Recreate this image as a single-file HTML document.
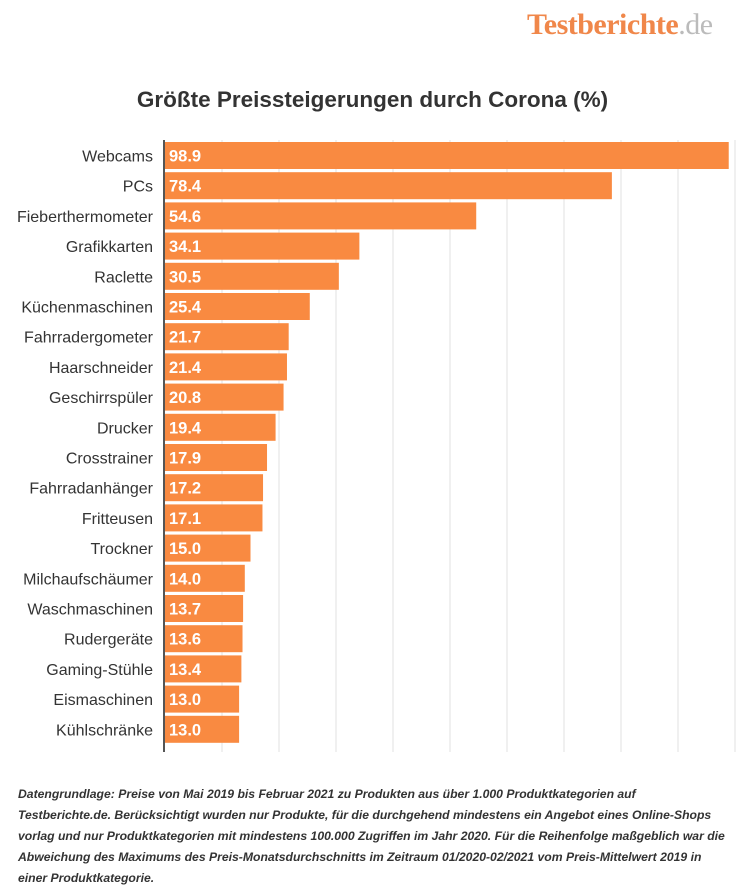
<!DOCTYPE html>
<html><head><meta charset="utf-8"><style>
body{margin:0;background:#fff;width:745px;height:895px;overflow:hidden;font-family:"Liberation Sans",sans-serif;position:relative}
.logo{position:absolute;left:527px;top:8px;font-family:"Liberation Serif",serif;font-size:30px;font-weight:bold;color:#f0874a;letter-spacing:-0.5px}
.logo span{color:#bbb;font-weight:normal}
.title{position:absolute;left:0;width:745px;top:87px;text-align:center;font-size:22.5px;font-weight:bold;color:#333}
.note{position:absolute;left:18px;top:784px;width:727px;font-size:12.2px;font-style:italic;font-weight:bold;color:#333;line-height:21px;white-space:nowrap}
</style></head><body>
<div class="logo">Testberichte<span>.de</span></div>
<div class="title">Größte Preissteigerungen durch Corona (%)</div>
<svg id="chart" width="745" height="895" style="position:absolute;left:0;top:0"></svg>
<div class="note">Datengrundlage: Preise von Mai 2019 bis Februar 2021 zu Produkten aus über 1.000 Produktkategorien auf<br>Testberichte.de. Berücksichtigt wurden nur Produkte, für die durchgehend mindestens ein Angebot eines Online-Shops<br>vorlag und nur Produktkategorien mit mindestens 100.000 Zugriffen im Jahr 2020. Für die Reihenfolge maßgeblich war die<br>Abweichung des Maximums des Preis-Monatsdurchschnitts im Zeitraum 01/2020-02/2021 vom Preis-Mittelwert 2019 in<br>einer Produktkategorie.</div>
<script>
const categories=["Webcams","PCs","Fieberthermometer","Grafikkarten","Raclette","Küchenmaschinen","Fahrradergometer","Haarschneider","Geschirrspüler","Drucker","Crosstrainer","Fahrradanhänger","Fritteusen","Trockner","Milchaufschäumer","Waschmaschinen","Rudergeräte","Gaming-Stühle","Eismaschinen","Kühlschränke"];
const values=[98.9,78.4,54.6,34.1,30.5,25.4,21.7,21.4,20.8,19.4,17.9,17.2,17.1,15.0,14.0,13.7,13.6,13.4,13.0,13.0];
const gridTicks=[10,20,30,40,50,60,70,80,90,100];
const NS="http://www.w3.org/2000/svg";
const svg=document.getElementById('chart');
const x0=165,pxPer=5.7,top0=142,step=30.2,bh=27;
const xs=v=>x0+v*pxPer, ys=i=>top0+i*step;
function mk(t,a){const e=document.createElementNS(NS,t);for(const k in a)e.setAttribute(k,a[k]);svg.appendChild(e);return e;}
gridTicks.forEach(t=>{const l=mk('line',{x1:xs(t),x2:xs(t),y1:140,y2:752,stroke:'#e2e2e2','stroke-width':1});

});
categories.forEach((c,i)=>{
const r=mk('rect',{x:x0,y:ys(i),width:values[i]*pxPer,height:bh,fill:'#f98a41'});


const v=mk('text',{x:x0+4,y:ys(i)+bh/2+6,fill:'#fff','font-size':16.5,'font-weight':'bold','font-family':'Liberation Sans, sans-serif'});
v.textContent=values[i].toFixed(1);


const l=mk('text',{x:153,y:ys(i)+bh/2+6,fill:'#333','font-size':16,'text-anchor':'end','font-family':'Liberation Sans, sans-serif'});
l.textContent=c;


});
const ax=mk('line',{x1:164,x2:164,y1:140,y2:752,stroke:'#555','stroke-width':2});


</script>
</body></html>
